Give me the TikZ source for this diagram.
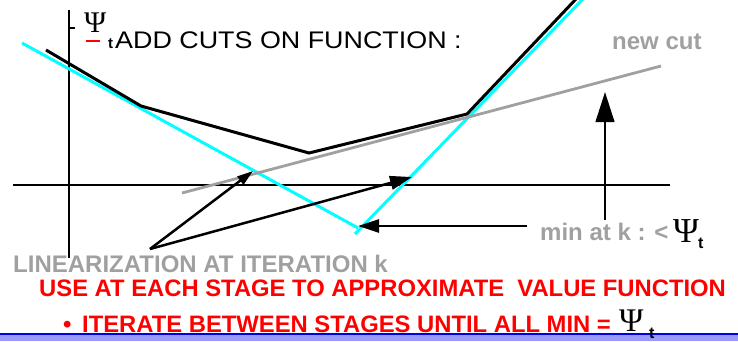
\documentclass[tikz,border=0pt]{standalone}
\usepackage{fontspec}
\setmainfont{Liberation Sans}
\newfontfamily\serifgr{Liberation Serif}
\usetikzlibrary{arrows.meta}
\definecolor{cyanl}{RGB}{0,255,255}
\definecolor{greyl}{RGB}{160,160,160}
\definecolor{redl}{RGB}{255,0,0}
\definecolor{bandblue}{RGB}{153,153,255}
\definecolor{lineblue}{RGB}{0,0,230}
\tikzset{
  axis/.style={line width=2pt,black},
  fn/.style={line width=3pt,black,line join=miter},
  approx/.style={line width=3pt,cyanl},
  cutline/.style={line width=2.8pt,greyl},
  arr/.style={line width=2.5pt,black,-{Triangle[length=#1pt,width=0.62*#1pt]}},
  lbl/.style={inner sep=0pt,anchor=base west},
  greylbl/.style={lbl,text=greyl,font=\fontsize{24}{26}\selectfont\bfseries},
  redlbl/.style={lbl,text=redl,font=\fontsize{23.8}{26}\selectfont\bfseries},
}
\begin{document}
\begin{tikzpicture}[x=1pt,y=-1pt]
\useasboundingbox (0,0) rectangle (738,341);
% bottom band
\fill[bandblue] (0,334) rectangle (738,341);
\draw[lineblue,line width=2pt] (0,334) -- (738,334);
% axes
\draw[axis] (69,10) -- (69,258);
\draw[axis] (69,28) -- (75,28);
\draw[axis] (13,185) -- (670,185);
% approximation (cyan)
\draw[approx] (22,43) -- (358,228);
\draw[approx] (355,234) -- (583,-1);
% true function
\draw[fn] (46,50) -- (141,106) -- (309,153) -- (467,114) -- (576,-1);
% new cut
\draw[cutline] (182,193) -- (661,66);
% arrows
\coordinate (lin) at (150,249);
\coordinate (t1) at (253,171);
\coordinate (t2) at (412,177);
\coordinate (mins) at (527,226);
\coordinate (mine) at (358,226);
\coordinate (vs) at (605,220);
\coordinate (ve) at (605,92);
\draw[arr=16] (lin) -- (t1);
\draw[arr=22] (lin) -- (t2);
\draw[arr=21] (mins) -- (mine);
\draw[arr=30] (vs) -- (ve);
% labels
\node[lbl,font=\serifgr\fontsize{30}{32}\selectfont] (psitop) at (84,32) {Ψ};
\draw[redl,line width=2.5pt] (86,41) -- (100,41);
\node[lbl,font=\fontsize{15}{16}\selectfont\bfseries] (ttop) at (108,48) {t};
\node[lbl,font=\fontsize{24}{26}\selectfont] (add) at (115,48) {\scalebox{1.12}[1]{ADD CUTS ON FUNCTION :}};
\node[greylbl] (newcut) at (612,49) {new cut};
\node[greylbl] (minat) at (540,240) {min at k : <};
\node[lbl,font=\serifgr\fontsize{35}{37}\selectfont] (psimin) at (673,242) {Ψ};
\node[lbl,font=\fontsize{16}{17}\selectfont\bfseries] (tmin) at (698,248) {t};
\node[greylbl] (linlbl) at (13,272) {LINEARIZATION AT ITERATION k};
\node[redlbl] (use) at (39,296) {USE AT EACH STAGE TO APPROXIMATE \ VALUE FUNCTION};
\node[redlbl] (bul) at (63,332) {•};
\node[redlbl] (iter) at (82,332) {ITERATE BETWEEN STAGES UNTIL ALL MIN =};
\node[lbl,font=\serifgr\fontsize{33}{35}\selectfont] (psiit) at (619,331) {Ψ};
\node[lbl,font=\fontsize{16}{17}\selectfont\bfseries] (tit) at (649,338) {t};
\end{tikzpicture}
\end{document}
